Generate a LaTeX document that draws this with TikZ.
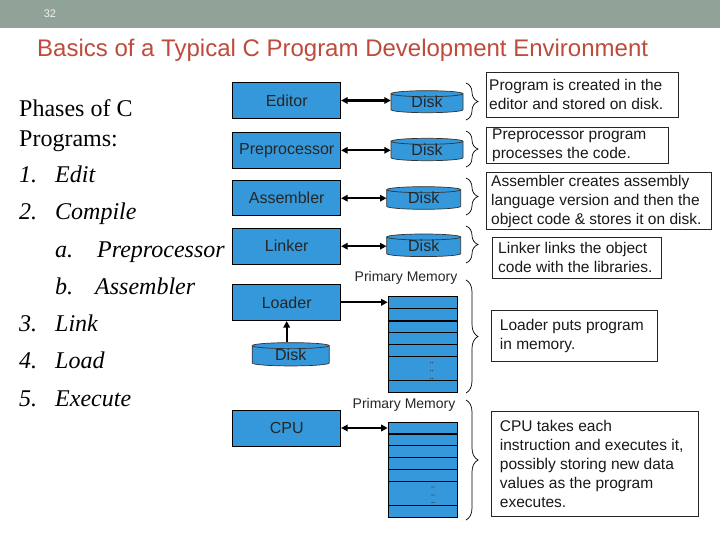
\documentclass[tikz,border=0pt]{standalone}
\usepackage{fontspec}
\setmainfont{Liberation Sans}
\newfontfamily\seriffont{Liberation Serif}
\usetikzlibrary{arrows.meta,decorations.pathreplacing}
\definecolor{boxblue}{RGB}{52,152,219}
\definecolor{barcol}{RGB}{145,162,152}
\definecolor{titlecol}{RGB}{190,75,60}
\newcommand\drawdisk[5]{%
  \path[fill=boxblue, draw=black!80, line width=0.7pt]
    (#2-#4/2, -#3+#5/2-3) -- (#2-#4/2, -#3-#5/2+3)
    arc[start angle=180, end angle=360, x radius=#4/2, y radius=3]
    -- (#2+#4/2, -#3+#5/2-3)
    arc[start angle=0, end angle=180, x radius=#4/2, y radius=3] -- cycle;
  \draw[black!80, line width=0.7pt] (#2-#4/2, -#3+#5/2-3)
    arc[start angle=180, end angle=360, x radius=#4/2, y radius=3];
  \node[disklabel, minimum width=#4pt, minimum height=#5pt] (#1) at (#2,-#3) {\raisebox{-2pt}{Disk}};
}
\begin{document}
\begin{tikzpicture}[x=1pt,y=1pt,
  proc/.style={draw=black, line width=0.8pt, fill=boxblue, minimum width=108pt, minimum height=36pt, inner sep=0pt, font=\fontsize{16}{18}\selectfont, text=black!85},
  disklabel/.style={inner sep=0pt, font=\fontsize{16}{18}\selectfont, text=black!85},
  arr/.style={line width=2.1pt, -{Triangle[length=6.5pt,width=6.5pt]}},
  darr/.style={line width=2.1pt, {Triangle[length=6.5pt,width=6.5pt]}-{Triangle[length=6.5pt,width=6.5pt]}},
  frame/.style={draw=black!85, line width=0.7pt, inner sep=0pt, anchor=north west},
  notetext/.style={anchor=west, align=left, inner sep=0pt, font=\fontsize{15.5}{19}\selectfont, text=black!90},
  brc/.style={decorate, decoration={brace, amplitude=12pt}, line width=0.7pt},
  mem/.style={draw=black, line width=0.8pt, fill=boxblue, minimum width=69.6pt, inner sep=0pt, anchor=north west},
  memtxt/.style={font=\fontsize{14}{16}\selectfont, text=black!85, inner sep=0pt},
  serif/.style={anchor=base west, inner sep=0pt, font=\seriffont\fontsize{24}{28}\selectfont},
]
\fill[white] (0,0) rectangle (720,-540);
\useasboundingbox (0,0) rectangle (720,-540);
% header
\fill[barcol] (0,0) rectangle (720,-28);
\node[font=\fontsize{11}{13}\selectfont, text=white!95!black, inner sep=0pt] (pagenum) at (50,-14) {32};
\node[anchor=base west, inner sep=0pt, font=\fontsize{24}{28}\selectfont, text=titlecol] (title) at (37,-57) {Basics of a Typical C Program Development Environment};
% left list
\node[serif] (t1) at (19,-117) {Phases of C};
\node[serif] (t2) at (19,-147) {Programs:};
\node[serif] (n1) at (19,-183) {\itshape 1.};
\node[serif] (i1) at (55,-183) {\itshape Edit};
\node[serif] (n2) at (19,-220) {\itshape 2.};
\node[serif] (i2) at (55,-220) {\itshape Compile};
\node[serif] (na) at (55,-257) {\itshape a.};
\node[serif] (ia) at (97,-257) {\itshape Preprocessor};
\node[serif] (nb) at (55,-294) {\itshape b.};
\node[serif] (ib) at (95,-294) {\itshape Assembler};
\node[serif] (n3) at (19,-331) {\itshape 3.};
\node[serif] (i3) at (55,-331) {\itshape Link};
\node[serif] (n4) at (19,-368) {\itshape 4.};
\node[serif] (i4) at (55,-368) {\itshape Load};
\node[serif] (n5) at (19,-406) {\itshape 5.};
\node[serif] (i5) at (55,-406) {\itshape Execute};
% process boxes
\node[proc] (editor) at (286.7,-100.5) {Editor};
\node[proc] (prep) at (286.7,-150.3) {Preprocessor};
\node[proc, minimum height=35pt] (asm) at (286.7,-198.2) {Assembler};
\node[proc] (linker) at (286.7,-246.2) {Linker};
\node[proc, minimum height=36.7pt] (loader) at (286.7,-302.3) {Loader};
\node[proc] (cpu) at (286.7,-428) {CPU};
% disks
\drawdisk{disk1}{427}{101.7}{72}{22}
\drawdisk{disk2}{427}{149.5}{72}{22.4}
\drawdisk{disk3}{423.7}{198}{74}{22.6}
\drawdisk{disk4}{423.7}{245.3}{74}{22.6}
\drawdisk{disk5}{290.7}{354.3}{77}{23.3}
% memories
\node[mem, minimum height=96.3pt] (mem1) at (387.7,-296) {};
\foreach \yy in {308.7,332.7,344.7,356.7,380.7}
  \draw[line width=0.8pt] (387.7,-\yy) -- (457.3,-\yy);
\draw[line width=2pt] (387.7,-320.7) -- (457.3,-320.7);
\node[mem, minimum height=95.6pt] (mem2) at (387.7,-421.7) {};
\foreach \yy in {445.7,457.7,469.3,481.7,505.7}
  \draw[line width=0.8pt] (387.7,-\yy) -- (457.3,-\yy);
\draw[line width=2pt] (387.7,-434) -- (457.3,-434);
\foreach \yy in {362.7,370.7,378.3}
  \fill[black!80] (430.7,-\yy) circle (0.55) (432.7,-\yy) circle (0.55);
\foreach \yy in {487,495,502.5}
  \fill[black!80] (432,-\yy) circle (0.55) (434,-\yy) circle (0.55);
\node[memtxt] (pm1) at (406,-278) {Primary Memory};
\node[memtxt] (pm2) at (404,-405) {Primary Memory};
% arrows
\draw[darr] (editor.east) -- (editor.east -| disk1.west);
\draw[darr] (prep.east) -- (prep.east -| disk2.west);
\draw[darr] (asm.east) -- (asm.east -| disk3.west);
\draw[darr] (linker.east) -- (linker.east -| disk4.west);
\draw[arr] (loader.east) -- (loader.east -| mem1.west);
\draw[arr] (loader.south |- disk5.north) -- (loader.south);
\draw[darr] (cpu.east) -- (cpu.east -| mem2.west);
% braces
\draw[brc] (466,-83) -- (466,-120);
\draw[brc] (466,-131) -- (466,-167);
\draw[brc] (466,-178) -- (466,-215);
\draw[brc] (466,-226) -- (466,-263);
\draw[brc] (466,-280) -- (466,-393);
\draw[brc] (466,-400) -- (466,-520);
% comment boxes
\node[frame, minimum width=192pt, minimum height=45pt] (c1) at (486,-71.7) {};
\node[notetext] (c1t) at ([xshift=3pt]c1.west) {Program is created in the\\editor and stored on disk.};
\node[frame, minimum width=182pt, minimum height=36pt] (c2) at (486,-127) {};
\node[notetext] (c2t) at ([xshift=6pt]c2.west) {Preprocessor program\\processes the code.};
\node[frame, minimum width=225pt, minimum height=57pt] (c3) at (486,-172.3) {};
\node[notetext] (c3t) at ([xshift=5pt]c3.west) {Assembler creates assembly\\language version and then the\\object code \& stores it on disk.};
\node[frame, minimum width=169pt, minimum height=41pt] (c4) at (492,-237) {};
\node[notetext] (c4t) at ([xshift=6pt]c4.west) {Linker links the object\\code with the libraries.};
\node[frame, minimum width=166.6pt, minimum height=51pt] (c5) at (490.7,-310) {};
\node[notetext] (c5t) at ([xshift=9pt]c5.west) {Loader puts program\\in memory.};
\node[frame, minimum width=207pt, minimum height=105.3pt] (c6) at (490.7,-410.7) {};
\node[notetext] (c6t) at ([xshift=9pt]c6.west) {CPU takes each\\instruction and executes it,\\possibly storing new data\\values as the program\\executes.};
\end{tikzpicture}
\end{document}
